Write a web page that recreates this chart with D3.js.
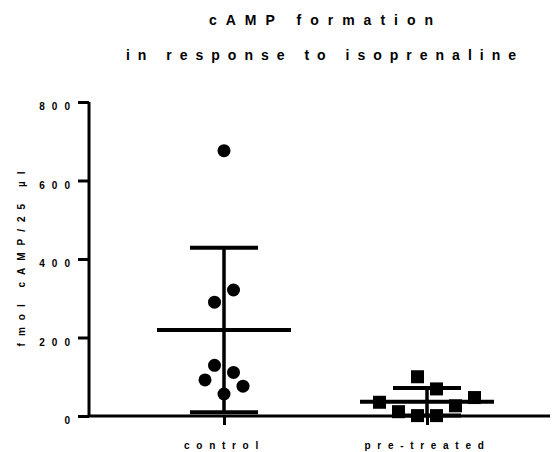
<!DOCTYPE html>
<html>
<head>
<meta charset="utf-8">
<script src="https://cdn.jsdelivr.net/npm/d3@7"></script>
<style>
  body { margin: 0; background: #fff; }
  text { font-family: "Liberation Sans", Arial, sans-serif; font-weight: bold; fill: #000; }
</style>
</head>
<body>
<svg id="chart"></svg>
<script>
// Data
const categories = ["control", "pre-treated"];
const controlValues = [676, 321, 290, 129, 111, 92, 76, 56];
const controlSlots = [0, 1, -1, -1, 1, -2, 2, 0];
const pretreatedValues = [100, 69, 35, 47, 26, 11, 1, 1];
const pretreatedSlots = [-1, 1, -5, 5, 3, -3, -1, 1];
const yTicks = [0, 200, 400, 600, 800];

const width = 553, height = 452;
const svg = d3.select("#chart").attr("width", width).attr("height", height);

const x = d3.scalePoint().domain(categories).range([224, 427]);
const y = d3.scaleLinear().domain([0, 800]).range([416, 102]);
const slotW = 9.5;

const groups = [
  { cat: "control", values: controlValues, slots: controlSlots, shape: "circle" },
  { cat: "pre-treated", values: pretreatedValues, slots: pretreatedSlots, shape: "square" }
];

// Titles (letter-spacing adds a trailing gap, so nudge the anchor by half of it)
svg.append("text").attr("x", 321 + 4.5).attr("y", 25).attr("text-anchor", "middle")
  .style("font-size", "14px").style("letter-spacing", "9px").text("cAMP formation");
svg.append("text").attr("x", 321 + 4).attr("y", 60).attr("text-anchor", "middle")
  .style("font-size", "14px").style("letter-spacing", "8px").text("in response to isoprenaline");

// Y axis
const yAxis = svg.append("g").attr("transform", "translate(89,0)")
  .call(d3.axisLeft(y).tickValues(yTicks).tickSize(11).tickPadding(1).tickFormat(d3.format("d")));
yAxis.select(".domain").attr("d", `M0,${y(800)}V${y(0)}`).attr("stroke-width", 3);
yAxis.selectAll(".tick line").attr("stroke-width", 3);
yAxis.selectAll(".tick text").style("font-size", "10px").style("letter-spacing", "7px")
  .attr("dy", "0.75em");

svg.append("text")
  .attr("transform", `translate(25,${252 + 3.5}) rotate(-90)`)
  .attr("text-anchor", "middle")
  .style("font-size", "10px").style("letter-spacing", "7px")
  .text("fmol cAMP/25 µl");

// X axis
const xAxis = svg.append("g").attr("transform", `translate(0,${y(0)})`)
  .call(d3.axisBottom(x).tickSize(9).tickPadding(17));
xAxis.select(".domain").attr("d", "M89,0H550").attr("stroke-width", 3);
xAxis.selectAll(".tick line").attr("stroke-width", 3);
xAxis.selectAll(".tick text").style("font-size", "10px").style("letter-spacing", "6.7px");

// Mean and SD error bars
groups.forEach(g => {
  const cx = x(g.cat);
  const m = d3.mean(g.values), sd = d3.deviation(g.values);
  const eb = svg.append("g").attr("stroke", "#000");
  eb.append("line").attr("x1", cx).attr("x2", cx).attr("y1", y(m + sd)).attr("y2", y(Math.max(0, m - sd)))
    .attr("stroke-width", 3.5);
  eb.append("line").attr("x1", cx - 67).attr("x2", cx + 67).attr("y1", y(m)).attr("y2", y(m))
    .attr("stroke-width", 4);
  [m + sd, m - sd].forEach(v => {
    eb.append("line").attr("x1", cx - 34).attr("x2", cx + 34).attr("y1", y(v)).attr("y2", y(v))
      .attr("stroke-width", 4);
  });
});

// Points
groups.forEach(g => {
  const pts = g.values.map((v, i) => ({ v, s: g.slots[i] }));
  if (g.shape === "circle") {
    svg.append("g").selectAll("circle").data(pts).join("circle")
      .attr("cx", d => x(g.cat) + d.s * slotW).attr("cy", d => y(d.v))
      .attr("r", 6.5).attr("fill", "#000");
  } else {
    svg.append("g").selectAll("rect").data(pts).join("rect")
      .attr("x", d => x(g.cat) + d.s * slotW - 6.5).attr("y", d => y(d.v) - 6.5)
      .attr("width", 13).attr("height", 13).attr("fill", "#000");
  }
});
</script>
</body>
</html>
